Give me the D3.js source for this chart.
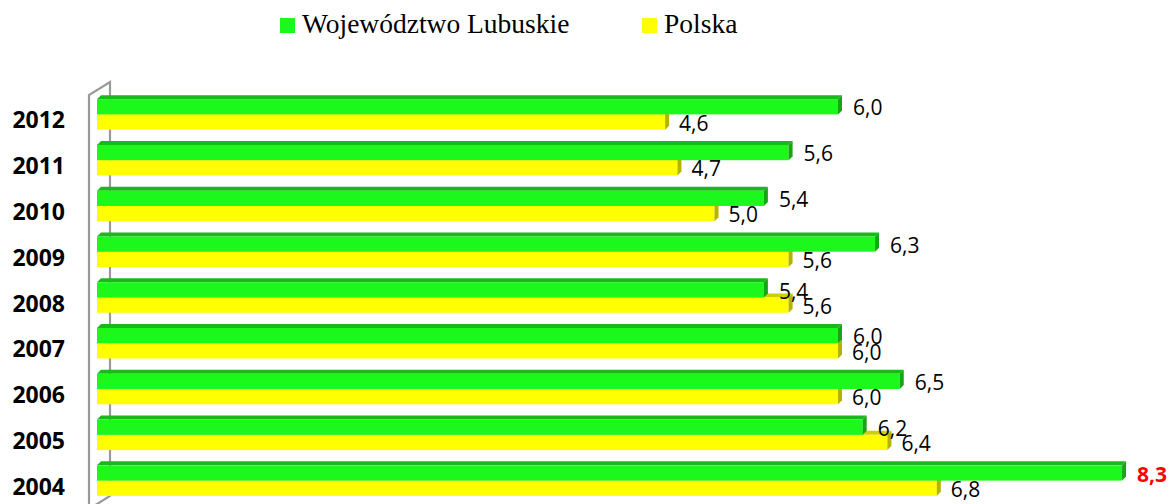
<!DOCTYPE html>
<html>
<head>
<meta charset="utf-8">
<script src="https://cdn.jsdelivr.net/npm/d3@7"></script>
<style>
  body { margin: 0; background: #fff; }
  svg { display: block; }
</style>
</head>
<body>
<svg id="chart"></svg>
<script>
// chart data (top row first, as in the picture)
const years = ["2012", "2011", "2010", "2009", "2008", "2007", "2006", "2005", "2004"];
const lubuskie = [6.0, 5.6, 5.4, 6.3, 5.4, 6.0, 6.5, 6.2, 8.3];
const polska = [4.6, 4.7, 5.0, 5.6, 5.6, 6.0, 6.0, 6.4, 6.8];
const seriesNames = ["Województwo Lubuskie", "Polska"];

const width = 1171, height = 504;
const svg = d3.select("#chart")
    .attr("width", width)
    .attr("height", height);

// scales
const x = d3.scaleLinear().domain([0, 6]).range([97, 838]);
const y = d3.scaleBand()
    .domain(years)
    .range([91.5, 503.5])
    .paddingInner(1 / 3)
    .paddingOuter(1 / 6);
const barH = y.bandwidth() / 2;
const depth = 4; // small 3d offset of the bars

const fmt = v => d3.format(".1f")(v).replace(".", ",");

const colors = [
    { front: "#1cf81c", top: "#1bb81b", side: "#17a417" },
    { front: "#ffff00", top: "#cfcf00", side: "#b4b400" }
];

// 3d wall lines
const wall = svg.append("g")
    .attr("fill", "none")
    .attr("stroke", "#999")
    .attr("stroke-width", 2.2);
wall.append("path").attr("d", "M89,512 L89,95 L110,82 L110,496 L89,509");

// one block = top face, front face, right side
function block(g, x0, x1, yTop, c) {
    g.append("path")
        .attr("d", `M${x0},${yTop} L${x0 + depth},${yTop - depth} L${x1 + depth},${yTop - depth} L${x1},${yTop} Z`)
        .attr("fill", c.top);
    g.append("rect")
        .attr("x", x0).attr("y", yTop)
        .attr("width", x1 - x0).attr("height", barH)
        .attr("fill", c.front);
    g.append("path")
        .attr("d", `M${x1},${yTop} L${x1 + depth},${yTop - depth} L${x1 + depth},${yTop + barH - depth} L${x1},${yTop + barH} Z`)
        .attr("fill", c.side);
}

const bars = svg.append("g");
years.forEach((yr, i) => {
    const g = bars.append("g");
    // polska first, green bar sits over it
    block(g, x(0), x(polska[i]), y(yr) + barH, colors[1]);
    block(g, x(0), x(lubuskie[i]), y(yr), colors[0]);
});

// value labels
const maxVal = d3.max(lubuskie);
const labels = svg.append("g")
    .attr("font-family", "'Open Sans', sans-serif")
    .attr("font-size", 21);
years.forEach((yr, i) => {
    labels.append("text")
        .attr("x", x(lubuskie[i]) + 15)
        .attr("y", y(yr) + barH + 1)
        .attr("fill", lubuskie[i] === maxVal ? "#ff0000" : "#000")
        .attr("font-weight", lubuskie[i] === maxVal ? 700 : 400)
        .text(fmt(lubuskie[i]));
    labels.append("text")
        .attr("x", x(polska[i]) + 14)
        .attr("y", y(yr) + 2 * barH + 1)
        .text(fmt(polska[i]));
});

// category labels
svg.append("g")
    .selectAll("text")
    .data(years)
    .join("text")
    .attr("x", 65)
    .attr("y", d => y(d) + barH + 14)
    .attr("text-anchor", "end")
    .attr("font-family", "'Open Sans', sans-serif")
    .attr("font-weight", 700)
    .attr("font-size", 23)
    .text(d => d);

// legend
const legendX = [280, 642];
const legend = svg.append("g");
seriesNames.forEach((name, i) => {
    legend.append("rect")
        .attr("x", legendX[i]).attr("y", 18)
        .attr("width", 15).attr("height", 15)
        .attr("fill", colors[i].front);
    legend.append("text")
        .attr("x", legendX[i] + 22)
        .attr("y", 33)
        .attr("font-family", "'Liberation Serif', serif")
        .attr("font-size", 27.5)
        .text(name);
});
</script>
</body>
</html>
